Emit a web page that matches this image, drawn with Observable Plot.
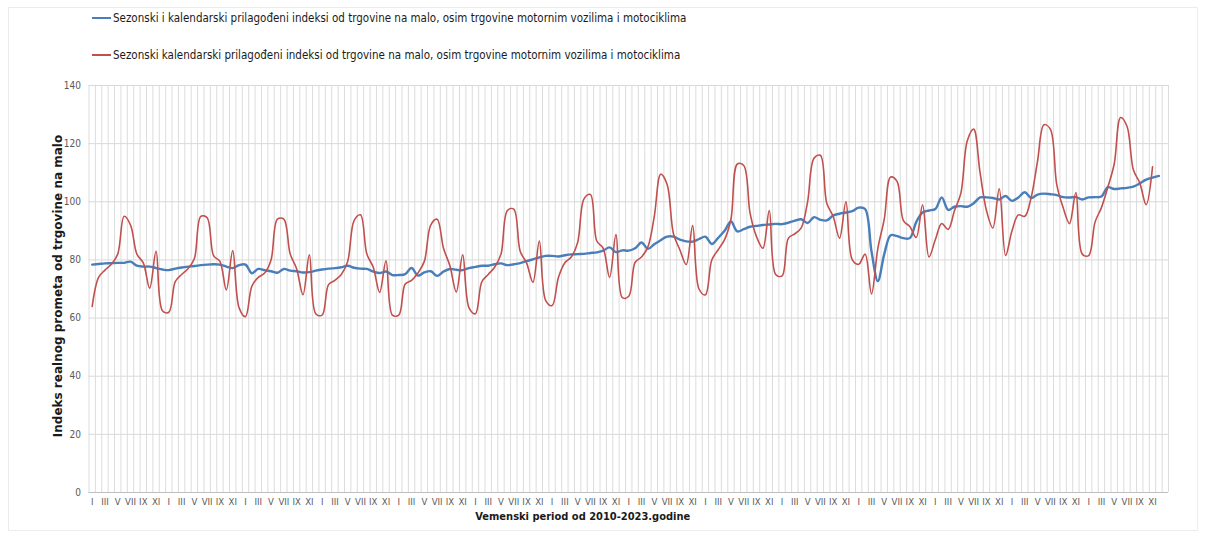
<!DOCTYPE html>
<html>
<head>
<meta charset="utf-8">
<script src="https://cdn.jsdelivr.net/npm/d3@7"></script>
<script src="https://cdn.jsdelivr.net/npm/@observablehq/plot@0.6"></script>
<style>
  body { margin: 0; background: #fff; }
  #wrap { position: relative; width: 1205px; height: 536px; overflow: hidden; background: #fff; }
  #frame { position: absolute; left: 8px; top: 7px; width: 1190px; height: 524px; border: 1px solid #ececec; box-sizing: border-box; pointer-events: none; }
  #legend { position: relative; height: 72px; font-family: "DejaVu Sans Condensed", "Liberation Sans Narrow", sans-serif; font-size: 11.5px; color: #1a1a1a; }
  .item { position: absolute; left: 92px; display: flex; align-items: center; white-space: nowrap; height: 16px; }
  .sw { width: 19px; height: 2px; margin-right: 2px; }
  #chart svg { display: block; }
</style>
</head>
<body>
<div id="wrap">
  <div id="frame"></div>
  <div id="legend"></div>
  <div id="chart"></div>
</div>
<script>
// ---- data ----
const years = [2010, 2011, 2012, 2013, 2014, 2015, 2016, 2017, 2018, 2019, 2020, 2021, 2022, 2023];
const monthLabels = ["I", "II", "III", "IV", "V", "VI", "VII", "VIII", "IX", "X", "XI", "XII"];
const yTicks = [0, 20, 40, 60, 80, 100, 120, 140];
const seriesNames = [
  "Sezonski i kalendarski prilagođeni indeksi od trgovine na malo, osim trgovine motornim vozilima i motociklima",
  "Sezonski kalendarski prilagođeni indeksi od trgovine na malo, osim trgovine motornim vozilima i motociklima"
];
const seriesColors = ["#4a7ebb", "#c0504d"];
const yTitle = "Indeks realnog prometa od trgovine na malo";
const xTitle = "Vemenski period od 2010-2023.godine";

// Seasonally and calendar adjusted index (blue), Jan 2010 – Dec 2023
const blueIndex = [
  78.4, 78.6, 78.8, 78.9, 79.0, 79.0, 79.4, 78.0, 77.7, 77.7, 77.2, 76.7,
  76.5, 77.0, 77.4, 77.7, 77.9, 78.2, 78.4, 78.5, 78.4, 77.7, 77.2, 78.2,
  78.4, 75.4, 76.9, 76.5, 76.1, 75.6, 76.9, 76.3, 76.1, 75.7, 75.8, 76.3,
  76.7, 77.0, 77.2, 77.5, 78.0, 77.3, 77.0, 76.9, 76.0, 75.5, 76.0, 74.8,
  74.8, 75.1, 77.2, 74.6, 75.7, 76.1, 74.5, 76.0, 76.9, 76.6, 76.5, 77.2,
  77.6, 78.0, 78.0, 78.5, 78.8, 78.2, 78.5, 78.9, 79.6, 80.2, 80.9, 81.4,
  81.4, 81.2, 81.6, 81.9, 82.0, 82.1, 82.4, 82.6, 83.2, 84.3, 82.7, 83.3,
  83.2, 84.0, 86.0, 83.8, 85.4, 86.8, 88.0, 88.0, 87.0, 86.4, 86.3, 87.2,
  88.0, 85.5, 87.6, 90.0, 93.2, 89.8, 90.6, 91.4, 91.7, 92.0, 92.2, 92.4,
  92.3, 92.8, 93.5, 94.0, 92.7, 94.7, 93.8, 93.6, 95.3, 95.9, 96.3, 96.8,
  98.0, 97.5, 83.0, 72.7, 82.0, 88.5, 88.2, 87.5, 87.5, 93.0, 96.3, 97.0,
  97.5, 101.5, 97.2, 98.3, 98.5, 98.3, 99.5, 101.5, 101.5, 101.3, 100.8, 102.0,
  100.3, 101.5, 103.3, 101.3, 102.5, 102.8, 102.6, 102.3, 101.6, 101.5, 101.6, 100.8,
  101.5, 101.6, 101.8, 105.0, 104.4, 104.6, 104.8, 105.2, 106.3, 107.6, 108.3, 108.9
];

// Calendar adjusted index (red), Jan 2010 – Nov 2023
const redIndex = [
  64.0, 74.0, 76.5, 78.5, 82.0, 95.0, 92.0, 82.0, 79.0, 70.3, 83.0, 62.5,
  62.0, 72.5, 75.0, 77.0, 80.5, 95.0, 94.5, 81.5, 79.5, 69.7, 83.2, 63.5,
  60.5, 71.0, 74.0, 75.5, 80.0, 94.0, 94.0, 82.0, 77.0, 68.0, 81.8, 61.5,
  61.0, 71.5, 73.0, 75.0, 79.5, 93.5, 95.5, 82.0, 77.5, 68.8, 79.7, 61.0,
  61.0, 71.7, 73.0, 75.5, 79.5, 92.0, 94.0, 84.0, 78.0, 69.0, 81.8, 63.5,
  61.5, 72.5, 75.0, 77.5, 82.0, 97.0, 97.5, 83.0, 79.0, 72.3, 86.5, 66.0,
  64.3, 74.0, 79.0, 81.0, 86.0, 101.0, 102.5, 86.5, 84.0, 74.0, 88.7, 67.0,
  67.5, 79.2, 81.0, 84.5, 95.0, 109.5, 106.0, 89.0, 83.5, 78.4, 91.8, 70.0,
  68.0, 80.0, 83.5, 87.0, 94.0, 113.0, 112.5, 96.0, 88.0, 84.0, 97.0, 75.0,
  74.5, 87.5, 89.0, 91.0, 100.0, 115.0, 116.0, 99.5, 95.0, 87.5, 100.0, 80.0,
  78.5, 82.0, 68.3, 84.0, 94.0, 108.5, 107.0, 93.5, 91.5, 87.7, 99.0, 81.0,
  87.0, 92.5, 90.5, 97.0, 103.0, 121.0, 125.0, 110.0, 97.0, 91.0, 104.5, 81.5,
  90.0, 95.5, 95.0, 101.5, 114.0, 126.5, 125.0, 106.0, 98.0, 92.5, 103.2, 82.0,
  81.5, 93.0, 98.0, 105.0, 113.0, 129.0, 126.0, 111.0, 106.5, 99.0, 112.0
];

// ---- derived tables ----
const nCats = years.length * 12 + 1; // Excel category slots (one trailing blank)
const boundaries = d3.range(nCats + 1).map(k => k - 0.5);
const labelTicks = d3.range(0, years.length * 12, 2);
const blueRows = blueIndex.map((v, i) => ({i, v}));
const redRows = redIndex.map((v, i) => ({i, v}));

// ---- legend ----
const legend = document.getElementById("legend");
seriesNames.forEach((name, k) => {
  const it = document.createElement("div");
  it.className = "item";
  it.style.top = (k === 0 ? 10 : 47) + "px";
  const sw = document.createElement("span");
  sw.className = "sw";
  sw.style.background = seriesColors[k];
  const tx = document.createElement("span");
  tx.textContent = name;
  it.appendChild(sw);
  it.appendChild(tx);
  legend.appendChild(it);
});

// ---- chart ----
const chart = Plot.plot({
  width: 1205,
  height: 464,
  marginLeft: 88.5,
  marginRight: 37,
  marginTop: 13,
  marginBottom: 44,
  style: {
    fontFamily: '"DejaVu Sans Condensed", "Liberation Sans Narrow", sans-serif',
    fontSize: "10px",
    color: "#595959",
    background: "transparent",
    overflow: "visible"
  },
  x: {type: "linear", domain: [-0.5, nCats - 0.5]},
  y: {domain: [0, 140]},
  marks: [
    Plot.gridX(boundaries, {stroke: "#dcdcdc", strokeOpacity: 1, strokeWidth: 1}),
    Plot.gridY(yTicks, {stroke: "#d9d9d9", strokeOpacity: 1, strokeWidth: 1}),
    Plot.ruleY([0], {stroke: "#bfbfbf", strokeWidth: 1.2}),
    Plot.axisY(yTicks, {tickSize: 0, tickPadding: 8, label: null, fontSize: 10, fill: "#595959"}),
    Plot.axisX(labelTicks, {
      tickSize: 0, tickPadding: 6, label: null, fontSize: 9.5, fill: "#595959",
      tickFormat: i => monthLabels[i % 12]
    }),
    Plot.line(blueRows, {x: "i", y: "v", stroke: seriesColors[0], strokeWidth: 2.4, curve: "catmull-rom"}),
    Plot.line(redRows, {x: "i", y: "v", stroke: seriesColors[1], strokeWidth: 1.6, curve: "catmull-rom"}),
    Plot.text([yTitle], {
      frameAnchor: "left", textAnchor: "middle", rotate: -90, dx: -31, dy: -3,
      fontFamily: '"DejaVu Sans", sans-serif', fontWeight: "bold", fontSize: 12, fill: "#1a1a1a"
    }),
    Plot.text([xTitle], {
      frameAnchor: "bottom", dy: 27, dx: -46,
      fontFamily: '"DejaVu Sans Condensed", "Liberation Sans Narrow", sans-serif',
      fontWeight: "bold", fontSize: 11, fill: "#1a1a1a"
    })
  ]
});
document.getElementById("chart").appendChild(chart);
</script>
</body>
</html>
